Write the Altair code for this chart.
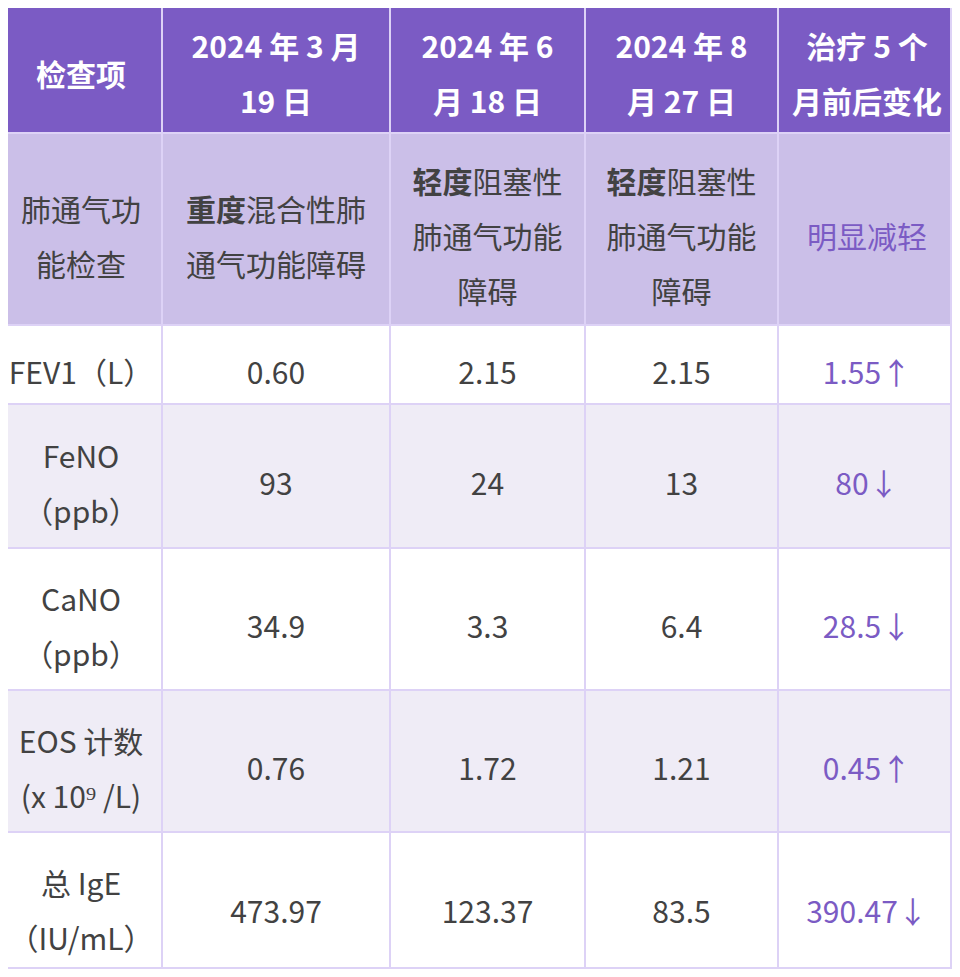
import altair as alt
import pandas as pd

# ---- table content ----
header = ["检查项", "2024 年 3 月\n19 日", "2024 年 6\n月 18 日", "2024 年 8\n月 27 日", "治疗 5 个\n月前后变化"]
row_lung = ["肺通气功\n能检查", "**重度**混合性肺\n通气功能障碍", "**轻度**阻塞性\n肺通气功能\n障碍",
            "**轻度**阻塞性\n肺通气功能\n障碍", "明显减轻"]
items = ["FEV1（L）", "FeNO\n（ppb）", "CaNO\n（ppb）", "EOS 计数\n(x 10⁹ /L)", "总 IgE\n（IU/mL）"]
v_mar = ["0.60", "93", "34.9", "0.76", "473.97"]
v_jun = ["2.15", "24", "3.3", "1.72", "123.37"]
v_aug = ["2.15", "13", "6.4", "1.21", "83.5"]
change = ["1.55↑", "80↓", "28.5↓", "0.45↑", "390.47↓"]

# ---- layout / style ----
COL_EDGES = [0, 162, 390, 585, 778, 956]
ROW_EDGES = [0, 133, 325, 404, 548, 690, 832, 975]
X_MAX, Y_MAX = 951, 968          # visible right / bottom edge of the page area
HEADER_BG = "#7b5bc4"
LUNG_BG = "#cbbfe8"
ODD_BG = "#ffffff"
EVEN_BG = "#efecf6"
GRID = "#ddd2f6"
TEXT = "#424242"
ACCENT = "#7b5bc4"
FS = 30
LINE = 55
YOFF = 10
FONT = "Noto Sans CJK SC"

rows = [header, row_lung] + [list(r) for r in zip(items, v_mar, v_jun, v_aug, change)]

cells = []
texts = []
for r, row in enumerate(rows):
    y0, y1 = ROW_EDGES[r], ROW_EDGES[r + 1]
    if r == 0:
        fill = HEADER_BG
    elif r == 1:
        fill = LUNG_BG
    else:
        fill = ODD_BG if r % 2 == 0 else EVEN_BG
    for c, content in enumerate(row):
        x0, x1 = COL_EDGES[c], COL_EDGES[c + 1]
        cells.append(dict(x0=x0, x1=min(x1, X_MAX), y0=y0, y1=min(y1, Y_MAX), fill=fill))
        if r == 0:
            color, base_bold = "#ffffff", True
        elif c == 4:
            color, base_bold = ACCENT, False
        else:
            color, base_bold = TEXT, False
        lines = content.split("\n")
        n = len(lines)
        cx = (x0 + x1) / 2
        cy = (y0 + y1) / 2 + YOFF
        for i, line in enumerate(lines):
            ly = cy + (i - (n - 1) / 2) * LINE
            parts = [(p, k % 2 == 1) for k, p in enumerate(line.split("**")) if p]
            if len(parts) == 1:
                texts.append(dict(x=cx, y=ly, label=parts[0][0], tcolor=color,
                                  isbold=base_bold or parts[0][1], halign="center"))
            else:
                total = sum(len(p) for p, _ in parts) * FS
                sx = cx - total / 2
                for p, b in parts:
                    texts.append(dict(x=sx, y=ly, label=p, tcolor=color,
                                      isbold=base_bold or b, halign="left"))
                    sx += len(p) * FS

cells_df = pd.DataFrame(cells)
texts_df = pd.DataFrame(texts)

xs = alt.Scale(domain=[8, 952], nice=False, zero=False)
ys = alt.Scale(domain=[8, 969], nice=False, zero=False, reverse=True)

rects = alt.Chart(cells_df).mark_rect(stroke=GRID, strokeWidth=2).encode(
    x=alt.X("x0:Q", scale=xs, axis=None),
    x2="x1:Q",
    y=alt.Y("y0:Q", scale=ys, axis=None),
    y2="y1:Q",
    fill=alt.Fill("fill:N", scale=None),
)

layers = [rects]
for bold in (False, True):
    for align in ("center", "left"):
        sub = texts_df[(texts_df["isbold"] == bold) & (texts_df["halign"] == align)]
        if len(sub) == 0:
            continue
        layers.append(
            alt.Chart(sub).mark_text(
                font=FONT, fontSize=FS, baseline="middle", align=align,
                fontWeight="bold" if bold else "normal",
            ).encode(
                x=alt.X("x:Q", scale=xs, axis=None),
                y=alt.Y("y:Q", scale=ys, axis=None),
                text="label:N",
                color=alt.Color("tcolor:N", scale=None),
            )
        )

chart = alt.layer(*layers).properties(
    width=944, height=961, padding=0,
    autosize=alt.AutoSizeParams(type="none"),
    background="#ffffff",
).configure_view(strokeWidth=0)

chart.save("out.html", embed_options={"renderer": "svg", "actions": False})
